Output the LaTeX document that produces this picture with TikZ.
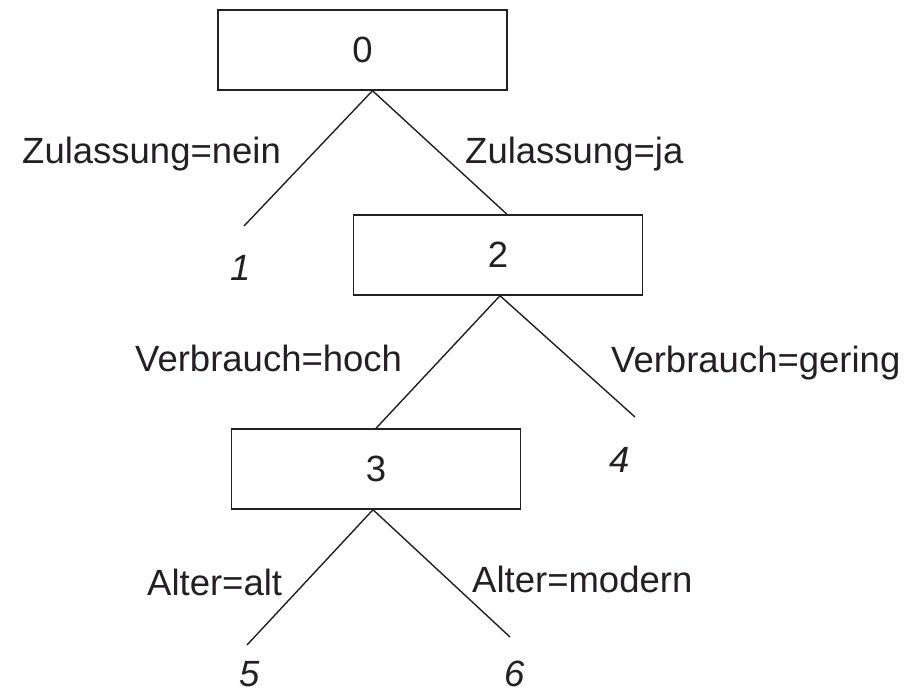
\documentclass[tikz,border=0pt]{standalone}
\usepackage{fontspec}
\setmainfont{Liberation Sans}
\usepackage{tikz}
\usetikzlibrary{calc}
\definecolor{ink}{RGB}{35,31,35}

\begin{document}
\begin{tikzpicture}
    [
      x = 1pt, y = -1pt,
      every node/.style = {text = ink, font = \fontsize{36.5}{43}\selectfont},
      box/.style = {draw = ink, line width = 1.4pt, inner sep = 0pt,
                    minimum width = 289pt, minimum height = 80pt},
      leaf/.style = {inner sep = 0pt, font = \fontsize{36.5}{43}\selectfont\itshape},
      cond/.style = {anchor = base west, inner sep = 0pt},
      edge/.style = {draw = ink, line width = 1.4pt},
    ]
    \useasboundingbox (0,0) rectangle (907,694);

    \node[box] (n0) at (362.5,50) {0};
    \node[box] (n2) at (498,255) {2};
    \node[box] (n3) at (376,469) {3};

    \coordinate (e1) at (244,226);
    \coordinate (e4) at (635,417);
    \coordinate (e5) at (247,645);
    \coordinate (e6) at (510,637);

    \node[leaf] (l1) at (241,268) {1};
    \node[leaf] (l4) at (620,460) {4};
    \node[leaf] (l5) at (250,674) {5};
    \node[leaf] (l6) at (515,674) {6};

    \draw[edge] ($(n0.south)+(10,0)$) -- (e1);
    \draw[edge] ($(n0.south)+(10,0)$) -- ($(n2.north)+(9,0)$);
    \draw[edge] ($(n2.south)+(2,0)$) -- (n3.north);
    \draw[edge] ($(n2.south)+(2,0)$) -- (e4);
    \draw[edge] ($(n3.south)+(-3,0)$) -- (e5);
    \draw[edge] ($(n3.south)+(-3,0)$) -- (e6);

    \node[cond] (c01) at (22,163) {Zulassung=nein};
    \node[cond] (c02) at (465,163) {Zulassung=ja};
    \node[cond] (c23) at (135,371) {Verbrauch=hoch};
    \node[cond] (c24) at (611,372) {Verbrauch=gering};
    \node[cond] (c35) at (147,595) {Alter=alt};
    \node[cond] (c36) at (472,592) {Alter=modern};
\end{tikzpicture}
\end{document}
